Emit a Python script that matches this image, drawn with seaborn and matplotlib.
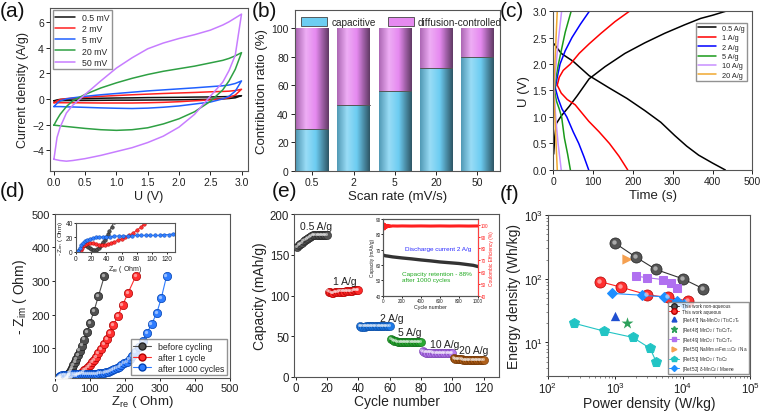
import numpy as np
import pandas as pd
import matplotlib
matplotlib.use('Agg')
import matplotlib.pyplot as plt
import seaborn as sns
from matplotlib.colors import LinearSegmentedColormap, to_rgb
from matplotlib.lines import Line2D
from matplotlib.patches import Patch
from matplotlib.transforms import ScaledTranslation

# ---------------- data ----------------
# (a) CV loops, current read at these potentials (upper / lower branch)
cv_u = [0.0, 0.05, 0.1, 0.2, 0.3, 0.5, 0.75, 1.0, 1.25, 1.5, 1.75, 2.0, 2.25, 2.5, 2.7, 2.8, 2.9, 3.0]
cv_labels = ['0.5 mV', '2 mV', '5 mV', '20 mV', '50 mV']
cv_up_05 = [-0.15, -0.08, -0.04, -0.01, 0.01, 0.03, 0.05, 0.07, 0.08, 0.1, 0.11, 0.12, 0.14, 0.15, 0.17, 0.18, 0.2, 0.25]
cv_dn_05 = [-0.15, -0.15, -0.14, -0.13, -0.13, -0.12, -0.11, -0.1, -0.1, -0.09, -0.08, -0.07, -0.05, -0.03, 0.0, 0.03, 0.08, 0.25]
cv_up_2 = [-0.3, -0.15, -0.05, 0.02, 0.06, 0.12, 0.2, 0.26, 0.32, 0.37, 0.42, 0.46, 0.5, 0.55, 0.58, 0.6, 0.65, 0.75]
cv_dn_2 = [-0.3, -0.3, -0.3, -0.3, -0.3, -0.31, -0.32, -0.32, -0.32, -0.3, -0.27, -0.22, -0.15, -0.08, 0.0, 0.1, 0.3, 0.75]
cv_up_5 = [-0.6, -0.35, -0.15, 0.0, 0.08, 0.2, 0.32, 0.42, 0.52, 0.62, 0.7, 0.78, 0.86, 0.95, 1.02, 1.08, 1.2, 1.4]
cv_dn_5 = [-0.6, -0.6, -0.6, -0.62, -0.63, -0.66, -0.7, -0.73, -0.75, -0.72, -0.65, -0.55, -0.4, -0.25, 0.0, 0.2, 0.6, 1.4]
cv_up_20 = [-2.05, -1.6, -1.2, -0.6, -0.15, 0.35, 0.85, 1.25, 1.6, 1.9, 2.15, 2.35, 2.55, 2.8, 3.0, 3.15, 3.35, 3.6]
cv_dn_20 = [-2.05, -2.07, -2.1, -2.15, -2.2, -2.3, -2.4, -2.45, -2.4, -2.25, -1.95, -1.55, -1.0, -0.2, 0.7, 1.4, 2.3, 3.6]
cv_up_50 = [-4.7, -3.0, -2.2, -1.1, -0.5, 0.35, 1.4, 2.4, 3.2, 3.9, 4.35, 4.7, 5.0, 5.35, 5.75, 6.0, 6.3, 6.6]
cv_dn_50 = [-4.7, -4.75, -4.8, -4.85, -4.8, -4.65, -4.4, -4.1, -3.8, -3.4, -2.9, -2.2, -1.2, 0.2, 1.3, 2.2, 3.4, 6.6]
cv_up_all = [cv_up_05, cv_up_2, cv_up_5, cv_up_20, cv_up_50]
cv_dn_all = [cv_dn_05, cv_dn_2, cv_dn_5, cv_dn_20, cv_dn_50]

# (b) contribution ratio
scan_rates = ['0.5', '2', '5', '20', '50']
capacitive = [29, 46, 56, 72, 80]
total_ratio = [100, 100, 100, 100, 100]

# (c) GCD curves
gcd_labels = ['0.5 A/g', '1 A/g', '2 A/g', '5 A/g', '10 A/g', '20 A/g']
chg_t_05 = [1, 4, 8, 20, 40, 60, 90, 130, 180, 230, 280, 330, 370, 400, 435]
chg_u_05 = [0.3, 0.65, 0.88, 1.02, 1.2, 1.4, 1.72, 1.95, 2.2, 2.4, 2.58, 2.74, 2.86, 2.92, 3.0]
dis_t_05 = [2, 20, 50, 90, 140, 185, 230, 270, 305, 335, 365, 400, 432]
dis_u_05 = [2.38, 2.2, 2.05, 1.78, 1.55, 1.35, 1.12, 0.9, 0.65, 0.45, 0.28, 0.13, 0.0]
chg_t_1 = [10, 15, 25, 43, 65, 90, 120, 155, 192]
chg_u_1 = [1.6, 1.75, 1.88, 2.0, 2.2, 2.38, 2.58, 2.8, 3.0]
dis_t_1 = [10, 20, 35, 55, 89, 115, 141, 165, 187]
dis_u_1 = [1.6, 1.45, 1.33, 1.23, 0.92, 0.72, 0.5, 0.26, 0.0]
chg_t_2 = [5, 10, 17, 30, 47, 68, 91]
chg_u_2 = [1.55, 1.75, 2.0, 2.25, 2.5, 2.75, 3.0]
dis_t_2 = [5, 12, 22, 34, 50, 64, 77, 89]
dis_u_2 = [1.55, 1.35, 1.15, 1.0, 0.72, 0.5, 0.25, 0.0]
chg_t_5 = [3, 7, 13, 20, 30, 45]
chg_u_5 = [1.5, 1.75, 2.0, 2.25, 2.6, 3.0]
dis_t_5 = [3, 8, 15, 21, 28, 36, 43]
dis_u_5 = [1.5, 1.3, 1.15, 1.0, 0.6, 0.3, 0.0]
chg_t_10 = [2, 6, 12, 21]
chg_u_10 = [1.5, 1.9, 2.4, 3.0]
dis_t_10 = [2, 6, 12, 20]
dis_u_10 = [1.5, 1.0, 0.5, 0.0]
chg_t_20 = [1, 4, 7, 10]
chg_u_20 = [1.5, 2.0, 2.5, 3.0]
dis_t_20 = [1, 4, 7, 10]
dis_u_20 = [1.5, 1.0, 0.5, 0.0]
gcd_all = [(chg_t_05, chg_u_05, dis_t_05, dis_u_05), (chg_t_1, chg_u_1, dis_t_1, dis_u_1),
           (chg_t_2, chg_u_2, dis_t_2, dis_u_2), (chg_t_5, chg_u_5, dis_t_5, dis_u_5),
           (chg_t_10, chg_u_10, dis_t_10, dis_u_10), (chg_t_20, chg_u_20, dis_t_20, dis_u_20)]

# (d) Nyquist
eis_labels = ['before cycling', 'after 1 cycle', 'after 1000 cycles']
zre_before = [2, 4, 6, 8, 10, 12, 14, 16, 18, 20, 22, 24, 26, 28, 30, 32, 34, 36, 38, 40, 42, 44, 47, 50, 53, 57, 61, 66, 71, 77, 84, 92, 101, 112, 125, 142]
zim_before = [0, 3, 6, 8, 9, 9, 8, 7, 5, 4, 3, 3, 3, 4, 6, 8, 11, 14, 17, 21, 25, 29, 35, 42, 49, 58, 68, 80, 93, 108, 126, 148, 175, 210, 255, 315]
zre_1 = [4, 6, 8, 10, 13, 16, 19, 22, 26, 30, 34, 38, 42, 46, 50, 55, 60, 65, 70, 75, 80, 85, 90, 95, 100, 106, 112, 118, 125, 132, 140, 149, 158, 168, 180, 194, 210, 232]
zim_1 = [0, 3, 6, 9, 11, 12, 12, 12, 11, 10, 10, 10, 11, 12, 14, 16, 18, 20, 23, 26, 30, 34, 39, 44, 50, 58, 66, 75, 86, 98, 112, 128, 146, 168, 195, 228, 265, 315]
zre_1000 = [3, 5, 7, 9, 12, 15, 18, 22, 26, 30, 35, 40, 45, 50, 56, 62, 68, 74, 80, 86, 92, 98, 104, 110, 116, 122, 128, 134, 140, 146, 152, 158, 164, 170, 177, 184, 191, 198, 206, 214, 222, 231, 241, 252, 264, 277, 292, 305, 320]
zim_1000 = [1, 5, 9, 12, 15, 17, 18, 19, 20, 20, 21, 21, 21, 22, 22, 22, 22, 22, 23, 23, 23, 23, 23, 23, 24, 24, 25, 26, 27, 28, 30, 32, 34, 37, 41, 45, 50, 56, 60, 68, 78, 90, 105, 122, 145, 172, 205, 250, 315]

# (e) rate capability
rate_labels = ['0.5 A/g', '1 A/g', '2 A/g', '5 A/g', '10 A/g', '20 A/g']
cap_05 = [160, 162, 163, 165, 167, 168, 170, 171, 172, 173, 174, 174, 175, 175, 175, 175, 175, 174, 174, 174]
cap_1 = [105, 104, 103, 103, 104, 104, 104, 105, 105, 105, 105, 106, 106, 106, 106, 106, 107, 107, 107, 107]
cap_2 = [63, 62, 62, 62, 63, 63, 63, 63, 63, 63, 63, 63, 63, 63, 63, 63, 63, 63, 63, 63]
cap_5 = [47, 45, 44, 44, 43, 43, 43, 43, 43, 43, 43, 43, 43, 43, 43, 43, 43, 43, 43, 43]
cap_10 = [32, 31, 30, 30, 30, 30, 30, 29, 29, 29, 29, 29, 29, 29, 29, 29, 29, 29, 29, 29]
cap_20 = [23, 22, 22, 22, 22, 22, 21, 21, 21, 21, 21, 21, 21, 21, 21, 21, 21, 21, 21, 21]
cap_all = [cap_05, cap_1, cap_2, cap_5, cap_10, cap_20]
# inset: long cycling at 2 A/g
long_cycle = [0, 25, 50, 100, 200, 300, 400, 500, 600, 700, 800, 900, 950, 1000]
long_cap = [66.5, 66, 65.8, 65.3, 64.6, 64.0, 63.3, 62.7, 62.0, 61.5, 61.0, 60.2, 59.8, 59.0]
ce_cycle = [0, 5, 10, 15, 20, 25, 30, 40, 50, 60, 70, 80, 100, 150, 200, 300, 400, 500, 600, 700, 800, 900, 1000]
ce_val = [101, 97, 100.5, 96.5, 100, 97.5, 99.5, 98, 99.5, 98.5, 99.2, 98.7, 99, 98.9, 99, 98.9, 99, 98.9, 99, 98.9, 99, 98.9, 99]

# (f) Ragone
p_nonaq = [1000, 2000, 4000, 10000, 20000]
e_nonaq = [360, 220, 140, 100, 70]
p_aq = [600, 1200, 3000, 6000, 12000]
e_aq = [90, 74, 56, 51, 45]
p_ref47, e_ref47 = [1000], [26.5]
p_ref48, e_ref48 = [1500], [20]
p_ref49 = [2000, 3000, 5100, 6700, 8200]
e_ref49 = [110, 104, 97, 85, 71]
p_ref50, e_ref50 = [1500], [204]
p_ref51 = [245, 690, 1820, 3270, 4030]
e_ref51 = [20, 15, 12, 8.1, 5.0]
p_ref52 = [890, 2510, 5190, 8130, 10350]
e_ref52 = [59, 55, 52, 44, 40]

# ---------------- style ----------------
sns.set_theme(style='ticks')
plt.rcParams['font.family'] = ['Liberation Sans', 'DejaVu Sans']
plt.rcParams['mathtext.fontset'] = 'custom'
plt.rcParams['mathtext.rm'] = 'Liberation Sans'
plt.rcParams['mathtext.it'] = 'Liberation Sans:italic'
plt.rcParams['axes.labelcolor'] = '#222222'

fig = plt.figure(figsize=(7.6, 4.14), dpi=100)


def style(ax, fs=7.5):
    for s in ax.spines.values():
        s.set_color('#555555')
        s.set_linewidth(0.8)
    ax.tick_params(direction='out', length=3, width=0.7, labelsize=fs, colors='#222222', pad=1.5)


def gloss(ax, x, y, ms, z=5):
    off = ScaledTranslation(-0.011, 0.011, fig.dpi_scale_trans)
    ax.plot(x, y, 'o', ms=ms, color='white', alpha=0.5, mew=0, transform=ax.transData + off, zorder=z)


# ---- (a) ----
ax = fig.add_axes([0.066, 0.585, 0.26, 0.394])
cv_colors = ['#111111', '#ff2020', '#2060ff', '#2ea043', '#c77dff']
rows = []
for lab, up, dn in zip(cv_labels, cv_up_all, cv_dn_all):
    uu = cv_u + cv_u[::-1]
    ii = up + dn[::-1]
    for k, (a, b) in enumerate(zip(uu, ii)):
        rows.append((lab, k, a, b))
df_a = pd.DataFrame(rows, columns=['rate', 'k', 'U', 'I'])
sns.lineplot(data=df_a, x='U', y='I', hue='rate', hue_order=cv_labels, palette=cv_colors,
             sort=False, estimator=None, lw=1.1, ax=ax, legend=False)
ax.set_xlim(-0.06, 3.1)
ax.set_ylim(-5.6, 7.1)
ax.set_xticks(np.arange(0, 3.01, 0.5))
ax.set_xticklabels([f'{v:.1f}' for v in np.arange(0, 3.01, 0.5)])
ax.set_yticks([-4, -2, 0, 2, 4, 6])
ax.set_xlabel('U (V)', fontsize=9, labelpad=2)
ax.set_ylabel('Current density (A/g)', fontsize=9, labelpad=2)
style(ax)
ax.legend([Line2D([], [], color=c, lw=1.1) for c in cv_colors], cv_labels, loc='upper left',
          fontsize=6.3, frameon=True, edgecolor='#777777', fancybox=False, handlelength=2.2,
          labelspacing=0.25, borderpad=0.3, borderaxespad=0.3)

# ---- (b) ----
ax = fig.add_axes([0.388, 0.585, 0.27, 0.389])
c_cap, c_dif = '#6dcdf2', '#e68af0'
sns.barplot(x=scan_rates, y=total_ratio, color=c_dif, saturation=1, width=0.78, ax=ax, lw=0)
sns.barplot(x=scan_rates, y=capacitive, color=c_cap, saturation=1, width=0.78, ax=ax, lw=0)
for i, p in enumerate(ax.patches):
    z = 1 if i < 5 else 2
    p.set_zorder(z)
    base = np.array(to_rgb(p.get_facecolor()))
    dark = base * 0.42
    mid = base * 0.75
    light = np.clip(base + (1 - base) * 0.3, 0, 1)
    cmap = LinearSegmentedColormap.from_list('g', [(0, mid), (0.3, light), (0.6, base), (1, dark)])
    x0, y0, w, h = p.get_x(), p.get_y(), p.get_width(), p.get_height()
    im = ax.imshow(np.linspace(0, 1, 64).reshape(1, -1), cmap=cmap, aspect='auto',
                   extent=[x0, x0 + w, y0, y0 + h], zorder=z + 0.5, interpolation='bilinear')
    im.set_clip_path(p)
    if i >= 5:
        ax.plot([x0, x0 + w], [h, h], color='#555555', lw=0.7, zorder=3)
ax.set_xlim(-0.42, 4.55)
ax.set_ylim(0, 113)
ax.set_yticks([0, 20, 40, 60, 80, 100])
ax.set_xlabel('Scan rate (mV/s)', fontsize=9.5, labelpad=2)
ax.set_ylabel('Contribution ratio (%)', fontsize=9.5, labelpad=2)
style(ax)
ax.legend([Patch(facecolor=c_cap, edgecolor='#444444', lw=0.6), Patch(facecolor=c_dif, edgecolor='#444444', lw=0.6)],
          ['capacitive', 'diffusion-controlled'], loc='upper center', bbox_to_anchor=(0.52, 1.01),
          ncol=2, fontsize=7.2, frameon=False, handlelength=2.6, handleheight=1.0, columnspacing=1.2,
          handletextpad=0.4)

# ---- (c) ----
ax = fig.add_axes([0.728, 0.587, 0.262, 0.384])
gcd_colors = ['#000000', '#ff0000', '#0000ff', '#1a9a1a', '#c890ff', '#f0a830']
rows = []
for lab, (ct, cu, dt, du) in zip(gcd_labels, gcd_all):
    for a, b in zip(ct, cu):
        rows.append((lab, 'chg', a, b))
    for a, b in zip(dt, du):
        rows.append((lab, 'dis', a, b))
df_c = pd.DataFrame(rows, columns=['rate', 'seg', 't', 'U'])
sns.lineplot(data=df_c, x='t', y='U', hue='rate', hue_order=gcd_labels, palette=gcd_colors,
             units='seg', estimator=None, sort=False, lw=1.1, ax=ax, legend=False)
ax.set_xlim(0, 500)
ax.set_ylim(0, 3.0)
ax.set_xticks([0, 100, 200, 300, 400, 500])
ax.set_yticks(np.arange(0, 3.01, 0.5))
ax.set_yticklabels([f'{v:.1f}' for v in np.arange(0, 3.01, 0.5)])
ax.set_xlabel('Time (s)', fontsize=9.5, labelpad=2)
ax.set_ylabel('U (V)', fontsize=9.5, labelpad=2)
style(ax)
ax.legend([Line2D([], [], color=c, lw=1.1) for c in gcd_colors], gcd_labels, loc='upper right',
          bbox_to_anchor=(0.99, 0.95), fontsize=5.3, frameon=True, edgecolor='#777777', fancybox=False,
          handlelength=2.4, labelspacing=0.3, borderpad=0.3)

# ---- bottom row common ----
def style_bottom(ax, fs=8):
    style(ax, fs)
    ax.tick_params(length=2.5, pad=1)


# ---- (d) ----
ax = fig.add_axes([0.072, 0.085, 0.23, 0.396])
eis_data = [(zre_before, zim_before), (zre_1, zim_1), (zre_1000, zim_1000)]
eis_face = ['#505050', '#ff3030', '#2f7dff']
eis_edge = ['#202020', '#b00000', '#0040b0']
for (zr, zi), fc, ec, lab in zip(eis_data, eis_face, eis_edge, eis_labels):
    sns.lineplot(x=zr, y=zi, sort=False, estimator=None, color=fc, lw=0.8, marker='o', ms=6,
                 mfc=fc, mec=ec, mew=0.5, ax=ax, legend=False)
    gloss(ax, zr, zi, 2.4, z=4)
ax.set_xlim(0, 500)
ax.set_ylim(12, 500)
ax.set_xticks([0, 100, 200, 300, 400, 500])
ax.set_yticks([100, 200, 300, 400, 500])
ax.set_xlabel('Z$_{\\rm re}$ ( Ohm)', fontsize=9.5, labelpad=0)
ax.set_ylabel('- Z$_{\\rm im}$ ( Ohm)', fontsize=10, labelpad=2)
style_bottom(ax)
ax.legend([Line2D([], [], color=fc, lw=0.8, marker='o', ms=5, mfc=fc, mec=ec) for fc, ec in zip(eis_face, eis_edge)],
          eis_labels, loc='lower right', fontsize=6.3, frameon=True, edgecolor='#777777', fancybox=False,
          handlelength=2.0, labelspacing=0.2, borderpad=0.3, borderaxespad=0.3)

axi = fig.add_axes([0.1, 0.389, 0.13, 0.07])
for (zr, zi), fc, ec in zip(eis_data, eis_face, eis_edge):
    sns.lineplot(x=zr, y=zi, sort=False, estimator=None, color=fc, lw=0.7, marker='o', ms=2.6,
                 mfc=fc, mec=ec, mew=0.3, ax=axi, legend=False)
axi.set_xlim(0, 130)
axi.set_ylim(0, 40)
axi.set_xticks([0, 20, 40, 60, 80, 100, 120])
axi.set_yticks([0, 20, 40])
axi.set_xlabel('Z$_{\\rm re}$ ( Ohm)', fontsize=5, labelpad=0.5)
axi.set_ylabel('- Z$_{\\rm im}$ ( Ohm)', fontsize=4.5, labelpad=0.5)
style(axi, 4.8)
axi.tick_params(length=1.5, pad=0.8)

# ---- (e) ----
ax = fig.add_axes([0.387, 0.087, 0.27, 0.393])
rate_colors = ['#555555', '#ff2a2a', '#1e7ae6', '#2aa832', '#b87ef0', '#b0601a']
rate_edges = ['#222222', '#b00000', '#0a4aa0', '#0f6a18', '#7a40b0', '#6a3000']
for k, (vals, fc, ec) in enumerate(zip(cap_all, rate_colors, rate_edges)):
    cyc = list(range(k * 20 + 1, k * 20 + 21))
    sns.scatterplot(x=cyc, y=vals, color=fc, edgecolor=ec, linewidth=0.4, s=34, ax=ax, legend=False, zorder=3)
    gloss(ax, cyc, vals, 2.2, z=4)
ax.set_xlim(-1, 130)
ax.set_ylim(0, 200)
ax.set_xticks([0, 20, 40, 60, 80, 100, 120])
ax.set_yticks([0, 50, 100, 150, 200])
ax.set_xlabel('Cycle number', fontsize=10, labelpad=0)
ax.set_ylabel('Capacity (mAh/g)', fontsize=10, labelpad=2)
style_bottom(ax, 8.3)
txt_pos = [(3, 186), (24, 118), (54, 73), (65, 55), (86, 40), (104, 33)]
for lab, (tx, ty) in zip(rate_labels, txt_pos):
    ax.text(tx, ty, lab, fontsize=7.5, ha='left', va='center', color='#222222')

axe = fig.add_axes([0.504, 0.283, 0.125, 0.186])
sns.lineplot(x=long_cycle, y=long_cap, color='#333333', lw=2.4, ax=axe, estimator=None, sort=False)
axe.set_xlim(0, 1000)
axe.set_ylim(40, 90)
axe.set_xticks([0, 200, 400, 600, 800, 1000])
axe.set_yticks([40, 50, 60, 70, 80, 90])
axe.set_xlabel('Cycle number', fontsize=3.8, labelpad=0.5)
axe.set_ylabel('Capacity (mAh/g)', fontsize=3.5, labelpad=0.5)
style(axe, 3.3)
axe.tick_params(length=1.2, pad=0.6)
axr = axe.twinx()
sns.lineplot(x=ce_cycle, y=ce_val, color='#ff2020', lw=2.2, ax=axr, estimator=None, sort=False)
axr.set_ylim(40, 105)
axr.set_yticks([40, 50, 60, 70, 80, 90, 100])
axr.set_ylabel('Coulombic Efficiency (%)', fontsize=3.5, labelpad=0.8, color='#ff2020')
style(axr, 3.3)
axr.tick_params(length=1.2, pad=0.6, colors='#ff2020')
axr.spines['right'].set_color('#ff4040')
axe.text(585, 71, 'Discharge current 2 A/g', fontsize=4.6, color='#2a2aff', ha='center', va='center')
axe.text(200, 52.5, 'Capacity retention - 88%\nafter 1000 cycles', fontsize=4.6, color='#22aa22',
         ha='left', va='center', linespacing=1.3)

# ---- (f) ----
ax = fig.add_axes([0.721, 0.09, 0.266, 0.388])
ax.set_xscale('log')
ax.set_yscale('log')
sns.lineplot(x=p_nonaq, y=e_nonaq, color='#333333', lw=0.8, marker='o', ms=8, mfc='#555555', mec='#222222',
             mew=0.5, ax=ax, estimator=None, sort=False)
gloss(ax, p_nonaq, e_nonaq, 3.2)
sns.lineplot(x=p_aq, y=e_aq, color='#ff2020', lw=0.8, marker='o', ms=8, mfc='#ff3030', mec='#b00000',
             mew=0.5, ax=ax, estimator=None, sort=False)
gloss(ax, p_aq, e_aq, 3.2)
sns.scatterplot(x=p_ref47, y=e_ref47, marker='^', color='#1f4fd0', s=45, linewidth=0, ax=ax)
sns.scatterplot(x=p_ref48, y=e_ref48, marker='*', color='#2ca05a', s=80, linewidth=0, ax=ax)
sns.lineplot(x=p_ref49, y=e_ref49, color='#b070f0', lw=0.8, marker='s', ms=6, mfc='#b070f0', mec='#b070f0',
             ax=ax, estimator=None, sort=False)
sns.scatterplot(x=p_ref50, y=e_ref50, marker='>', color='#f5a050', s=55, linewidth=0, ax=ax)
sns.lineplot(x=p_ref51, y=e_ref51, color='#22c4c4', lw=0.8, marker='p', ms=7.5, mfc='#22c4c4', mec='#22c4c4',
             ax=ax, estimator=None, sort=False)
sns.lineplot(x=p_ref52, y=e_ref52, color='#1e8fff', lw=0.8, marker='D', ms=5.5, mfc='#1e8fff', mec='#1e8fff',
             ax=ax, estimator=None, sort=False)
ax.set_xlim(1e2, 1e5)
ax.set_ylim(3, 1000)
ax.set_xlabel('Power density (W/kg)', fontsize=10, labelpad=0)
ax.set_ylabel('Energy density (Wh/kg)', fontsize=10, labelpad=2)
style_bottom(ax, 8.3)
ax.tick_params(which='minor', length=1.5, width=0.5, colors='#555555')
f_labels = ['This work non-aqueous', 'This work aqueous',
            '[Ref.47] Na-MnO$_2$ / Ti$_3$C$_2$T$_x$', '[Ref.48] MnO$_2$ / Ti$_3$C$_2$T$_x$',
            '[Ref.49] MnO$_2$ / Ti$_3$C$_2$T$_x$', '[Ref.50] NaMn$_{0.89}$Fe$_{0.11}$O$_2$ / Na',
            '[Ref.51] MnO$_2$ / Ti$_3$C$_2$', '[Ref.52] δ-MnO$_2$ / Mxene']
f_handles = [Line2D([], [], color='#333333', lw=0.7, marker='o', ms=4, mfc='#555555', mec='#222222'),
             Line2D([], [], color='#ff2020', lw=0.7, marker='o', ms=4, mfc='#ff3030', mec='#b00000'),
             Line2D([], [], color='#1f4fd0', lw=0, marker='^', ms=3.5),
             Line2D([], [], color='#2ca05a', lw=0, marker='*', ms=4.5),
             Line2D([], [], color='#b070f0', lw=0.7, marker='s', ms=3),
             Line2D([], [], color='#f5a050', lw=0, marker='>', ms=3.5),
             Line2D([], [], color='#22c4c4', lw=0.7, marker='p', ms=4),
             Line2D([], [], color='#1e8fff', lw=0.7, marker='D', ms=3)]
ax.legend(f_handles, f_labels, loc='lower right', fontsize=3.3, frameon=True, edgecolor='#777777',
          fancybox=False, handlelength=2.2, labelspacing=0.18, borderpad=0.3, borderaxespad=0.3,
          handletextpad=0.5)

# ---- panel letters ----
for lab, x, y in [('(a)', 0.0, 0.972), ('(b)', 0.331, 0.972), ('(c)', 0.658, 0.972),
                  ('(d)', 0.0, 0.538), ('(e)', 0.358, 0.538), ('(f)', 0.658, 0.53)]:
    fig.text(x, y, lab, fontsize=15, va='center', ha='left', color='#111111')

fig.savefig('out.png', dpi=100)
